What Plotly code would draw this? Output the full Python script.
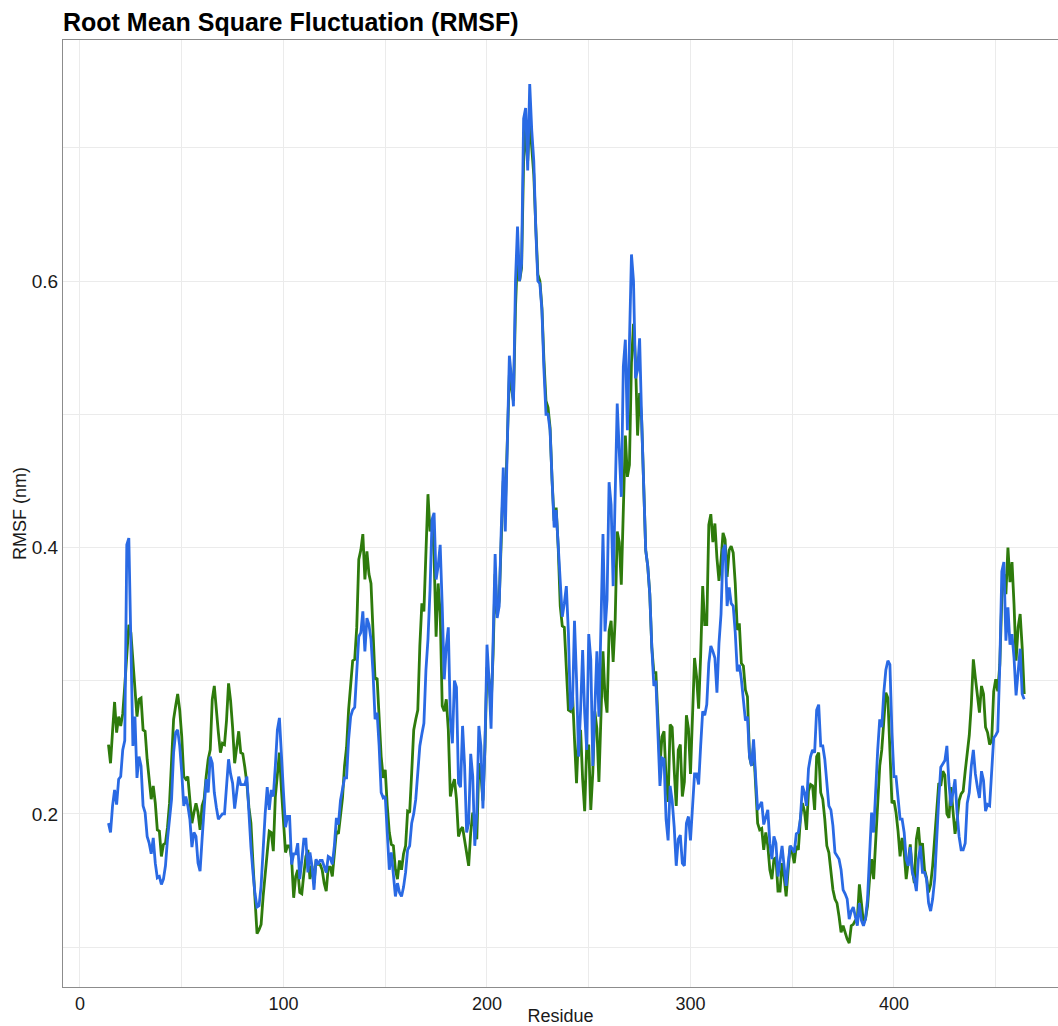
import plotly.graph_objects as go

# ---------------- data ----------------
res_green = list(range(14, 465))
rmsf_green = [
    0.252, 0.238, 0.262, 0.284, 0.261, 0.273, 0.266, 0.275, 0.296, 0.320,  # 14-23
    0.342, 0.336, 0.313, 0.288, 0.273, 0.286, 0.287, 0.263, 0.262, 0.241,  # 24-33
    0.228, 0.211, 0.221, 0.208, 0.188, 0.187, 0.168, 0.177, 0.178, 0.190,  # 34-43
    0.208, 0.245, 0.271, 0.281, 0.290, 0.278, 0.258, 0.228, 0.226, 0.228,  # 44-53
    0.208, 0.193, 0.201, 0.208, 0.201, 0.188, 0.206, 0.211, 0.228, 0.241,  # 54-63
    0.248, 0.286, 0.296, 0.276, 0.261, 0.246, 0.253, 0.252, 0.270, 0.298,  # 64-73
    0.285, 0.265, 0.238, 0.250, 0.262, 0.246, 0.245, 0.235, 0.223, 0.205,  # 74-83
    0.193, 0.163, 0.138, 0.110, 0.113, 0.117, 0.138, 0.153, 0.170, 0.187,  # 84-93
    0.186, 0.172, 0.213, 0.230, 0.246, 0.218, 0.191, 0.171, 0.176, 0.176,  # 94-103
    0.166, 0.137, 0.153, 0.158, 0.141, 0.140, 0.155, 0.168, 0.173, 0.151,  # 104-113
    0.161, 0.148, 0.165, 0.162, 0.162, 0.158, 0.148, 0.142, 0.160, 0.160,  # 114-123
    0.153, 0.173, 0.187, 0.185, 0.200, 0.212, 0.236, 0.250, 0.278, 0.300,  # 124-133
    0.315, 0.316, 0.340, 0.391, 0.398, 0.410, 0.376, 0.397, 0.380, 0.373,  # 134-143
    0.338, 0.301, 0.302, 0.276, 0.243, 0.227, 0.233, 0.206, 0.186, 0.177,  # 144-153
    0.176, 0.158, 0.151, 0.165, 0.158, 0.170, 0.176, 0.202, 0.201, 0.231,  # 154-163
    0.263, 0.271, 0.278, 0.326, 0.358, 0.352, 0.406, 0.440, 0.412, 0.421,  # 164-173
    0.393, 0.333, 0.373, 0.351, 0.281, 0.277, 0.286, 0.263, 0.213, 0.221,  # 174-183
    0.226, 0.211, 0.183, 0.188, 0.190, 0.180, 0.170, 0.161, 0.186, 0.201,  # 184-193
    0.188, 0.181, 0.238, 0.230, 0.210, 0.250, 0.310, 0.300, 0.280, 0.320,  # 194-203
    0.380, 0.350, 0.360, 0.410, 0.450, 0.430, 0.490, 0.530, 0.520, 0.510,  # 204-213
    0.580, 0.620, 0.600, 0.610, 0.690, 0.715, 0.690, 0.720, 0.700, 0.680,  # 214-223
    0.640, 0.605, 0.600, 0.580, 0.540, 0.510, 0.505, 0.490, 0.450, 0.420,  # 224-233
    0.430, 0.400, 0.356, 0.341, 0.340, 0.308, 0.278, 0.277, 0.291, 0.256,  # 234-243
    0.223, 0.261, 0.263, 0.226, 0.202, 0.251, 0.251, 0.203, 0.231, 0.277,  # 244-253
    0.264, 0.224, 0.279, 0.322, 0.288, 0.276, 0.337, 0.345, 0.314, 0.346,  # 254-263
    0.412, 0.404, 0.372, 0.435, 0.484, 0.453, 0.462, 0.539, 0.568, 0.539,  # 264-273
    0.484, 0.516, 0.496, 0.447, 0.398, 0.386, 0.365, 0.325, 0.306, 0.306,  # 274-283
    0.264, 0.236, 0.258, 0.262, 0.227, 0.209, 0.267, 0.265, 0.233, 0.206,  # 284-293
    0.248, 0.252, 0.213, 0.224, 0.274, 0.264, 0.230, 0.270, 0.317, 0.303,  # 294-303
    0.279, 0.319, 0.371, 0.342, 0.342, 0.417, 0.425, 0.404, 0.418, 0.392,  # 304-313
    0.375, 0.390, 0.411, 0.406, 0.378, 0.398, 0.401, 0.396, 0.373, 0.338,  # 314-323
    0.343, 0.313, 0.311, 0.293, 0.288, 0.243, 0.236, 0.251, 0.221, 0.193,  # 324-333
    0.188, 0.189, 0.173, 0.186, 0.176, 0.158, 0.151, 0.166, 0.167, 0.142,  # 334-343
    0.142, 0.163, 0.153, 0.138, 0.158, 0.176, 0.171, 0.163, 0.176, 0.173,  # 344-353
    0.196, 0.208, 0.202, 0.188, 0.217, 0.222, 0.221, 0.203, 0.243, 0.246,  # 354-363
    0.216, 0.211, 0.196, 0.176, 0.171, 0.158, 0.143, 0.136, 0.133, 0.123,  # 364-373
    0.111, 0.116, 0.111, 0.106, 0.103, 0.116, 0.117, 0.120, 0.121, 0.147,  # 374-383
    0.133, 0.118, 0.121, 0.131, 0.151, 0.166, 0.151, 0.181, 0.211, 0.236,  # 384-393
    0.248, 0.271, 0.291, 0.287, 0.246, 0.208, 0.210, 0.201, 0.187, 0.168,  # 394-403
    0.182, 0.171, 0.151, 0.166, 0.177, 0.158, 0.148, 0.181, 0.190, 0.171,  # 404-413
    0.178, 0.158, 0.152, 0.141, 0.147, 0.161, 0.181, 0.203, 0.223, 0.221,  # 414-423
    0.232, 0.229, 0.200, 0.197, 0.220, 0.202, 0.185, 0.195, 0.210, 0.215,  # 424-433
    0.217, 0.232, 0.247, 0.259, 0.282, 0.316, 0.302, 0.291, 0.276, 0.296,  # 434-443
    0.290, 0.265, 0.261, 0.252, 0.255, 0.292, 0.301, 0.292, 0.312, 0.362,  # 444-453
    0.380, 0.365, 0.400, 0.374, 0.389, 0.357, 0.315, 0.340, 0.350, 0.325,  # 454-463
    0.290,                                                                 # 464
]

res_blue = list(range(14, 465))
rmsf_blue = [
    0.193, 0.186, 0.206, 0.218, 0.207, 0.226, 0.228, 0.248, 0.255, 0.402,  # 14-23
    0.407, 0.321, 0.251, 0.273, 0.227, 0.243, 0.236, 0.206, 0.201, 0.183,  # 24-33
    0.178, 0.170, 0.182, 0.163, 0.152, 0.153, 0.147, 0.151, 0.161, 0.181,  # 34-43
    0.195, 0.211, 0.246, 0.261, 0.263, 0.251, 0.231, 0.206, 0.213, 0.206,  # 44-53
    0.196, 0.175, 0.186, 0.183, 0.163, 0.157, 0.181, 0.208, 0.226, 0.216,  # 54-63
    0.243, 0.238, 0.216, 0.205, 0.196, 0.198, 0.200, 0.200, 0.220, 0.241,  # 64-73
    0.230, 0.223, 0.204, 0.215, 0.228, 0.222, 0.222, 0.222, 0.228, 0.196,  # 74-83
    0.175, 0.156, 0.140, 0.130, 0.131, 0.146, 0.178, 0.200, 0.220, 0.203,  # 84-93
    0.218, 0.213, 0.236, 0.263, 0.272, 0.248, 0.216, 0.190, 0.198, 0.198,  # 94-103
    0.162, 0.170, 0.170, 0.178, 0.151, 0.165, 0.181, 0.181, 0.156, 0.171,  # 104-113
    0.161, 0.143, 0.166, 0.162, 0.165, 0.165, 0.161, 0.156, 0.168, 0.167,  # 114-123
    0.162, 0.176, 0.197, 0.192, 0.210, 0.218, 0.227, 0.227, 0.256, 0.273,  # 124-133
    0.278, 0.280, 0.306, 0.333, 0.336, 0.352, 0.322, 0.347, 0.342, 0.331,  # 134-143
    0.306, 0.271, 0.276, 0.251, 0.216, 0.212, 0.213, 0.188, 0.158, 0.171,  # 144-153
    0.153, 0.138, 0.148, 0.141, 0.138, 0.145, 0.156, 0.173, 0.176, 0.193,  # 154-163
    0.200, 0.211, 0.231, 0.251, 0.260, 0.268, 0.308, 0.331, 0.368, 0.421,  # 164-173
    0.426, 0.376, 0.386, 0.402, 0.356, 0.301, 0.326, 0.340, 0.271, 0.253,  # 174-183
    0.300, 0.295, 0.223, 0.220, 0.266, 0.236, 0.186, 0.193, 0.245, 0.228,  # 184-193
    0.176, 0.201, 0.266, 0.251, 0.204, 0.251, 0.327, 0.301, 0.264, 0.326,  # 194-203
    0.395, 0.347, 0.356, 0.413, 0.460, 0.412, 0.480, 0.544, 0.528, 0.506,  # 204-213
    0.600, 0.641, 0.600, 0.613, 0.722, 0.730, 0.683, 0.748, 0.713, 0.690,  # 214-223
    0.638, 0.600, 0.598, 0.578, 0.533, 0.500, 0.500, 0.488, 0.450, 0.415,  # 224-233
    0.428, 0.401, 0.366, 0.348, 0.358, 0.371, 0.336, 0.278, 0.281, 0.345,  # 234-243
    0.301, 0.243, 0.278, 0.323, 0.276, 0.248, 0.335, 0.316, 0.236, 0.283,  # 244-253
    0.322, 0.273, 0.355, 0.410, 0.337, 0.361, 0.449, 0.432, 0.371, 0.429,  # 254-263
    0.508, 0.472, 0.438, 0.536, 0.556, 0.488, 0.551, 0.620, 0.600, 0.527,  # 264-273
    0.533, 0.557, 0.496, 0.447, 0.398, 0.386, 0.365, 0.325, 0.296, 0.300,  # 274-283
    0.264, 0.221, 0.242, 0.241, 0.196, 0.180, 0.221, 0.210, 0.190, 0.161,  # 284-293
    0.181, 0.184, 0.163, 0.161, 0.193, 0.198, 0.180, 0.202, 0.230, 0.230,  # 294-303
    0.222, 0.251, 0.277, 0.274, 0.282, 0.313, 0.326, 0.322, 0.317, 0.291,  # 304-313
    0.328, 0.350, 0.398, 0.402, 0.356, 0.370, 0.358, 0.356, 0.336, 0.307,  # 314-323
    0.312, 0.301, 0.283, 0.270, 0.273, 0.243, 0.236, 0.256, 0.228, 0.203,  # 324-333
    0.206, 0.209, 0.192, 0.198, 0.203, 0.178, 0.166, 0.183, 0.178, 0.153,  # 334-343
    0.163, 0.176, 0.161, 0.146, 0.163, 0.176, 0.174, 0.171, 0.185, 0.186,  # 344-353
    0.196, 0.221, 0.216, 0.206, 0.234, 0.243, 0.248, 0.246, 0.278, 0.282,  # 354-363
    0.251, 0.251, 0.241, 0.221, 0.206, 0.203, 0.191, 0.171, 0.168, 0.166,  # 364-373
    0.158, 0.143, 0.140, 0.136, 0.121, 0.127, 0.130, 0.123, 0.116, 0.133,  # 374-383
    0.120, 0.116, 0.121, 0.136, 0.166, 0.201, 0.186, 0.221, 0.248, 0.271,  # 384-393
    0.265, 0.291, 0.308, 0.315, 0.312, 0.261, 0.228, 0.228, 0.211, 0.196,  # 394-403
    0.196, 0.186, 0.166, 0.161, 0.175, 0.156, 0.151, 0.142, 0.166, 0.176,  # 404-413
    0.156, 0.156, 0.151, 0.133, 0.127, 0.136, 0.151, 0.183, 0.211, 0.235,  # 414-423
    0.238, 0.240, 0.251, 0.223, 0.206, 0.218, 0.226, 0.201, 0.183, 0.173,  # 424-433
    0.173, 0.178, 0.208, 0.216, 0.236, 0.248, 0.230, 0.220, 0.212, 0.232,  # 434-443
    0.225, 0.202, 0.207, 0.206, 0.232, 0.257, 0.259, 0.262, 0.312, 0.382,  # 444-453
    0.389, 0.330, 0.355, 0.327, 0.335, 0.317, 0.289, 0.310, 0.324, 0.290,  # 454-463
    0.286,                                                                 # 464
]

x_tick_vals = [0, 100, 200, 300, 400]
y_tick_vals = [0.2, 0.4, 0.6]

# ---------------- figure ----------------
GREEN = "#2E7B0C"
BLUE = "#2A6AE4"
GRID = "#EBEBEB"
FONT = "Liberation Sans, Arial, sans-serif"

fig = go.Figure()
fig.add_trace(go.Scatter(x=res_green, y=rmsf_green, mode="lines",
                         line=dict(color=GREEN, width=2.8), showlegend=False))
fig.add_trace(go.Scatter(x=res_blue, y=rmsf_blue, mode="lines",
                         line=dict(color=BLUE, width=2.8), showlegend=False))

fig.update_layout(
    width=1058, height=1026,
    margin=dict(l=63, r=0, t=40, b=39, autoexpand=False),
    paper_bgcolor="white", plot_bgcolor="white",
    font=dict(family=FONT, size=18, color="#1a1a1a"),
    title=dict(text="<b>Root Mean Square Fluctuation (RMSF)</b>",
               font=dict(family=FONT, size=25, color="black"),
               x=63 / 1058, xref="container", xanchor="left",
               y=1 - 22 / 1026, yref="container", yanchor="middle"),
)
fig.update_xaxes(
    range=[-8.35, 480.6], tickvals=x_tick_vals, ticks="",
    showgrid=True, gridcolor=GRID, gridwidth=1,
    minor=dict(dtick=50, tick0=0, showgrid=True, gridcolor=GRID, gridwidth=1),
    zeroline=False, showline=True, linecolor="#8c8c8c", linewidth=1.2, mirror=True,
    tickfont=dict(size=18, color="#1a1a1a"),
    title=dict(text="Residue", font=dict(size=18), standoff=2),
    automargin=False,
)
fig.update_yaxes(
    range=[0.070, 0.781], tickvals=y_tick_vals, ticks="",
    showgrid=True, gridcolor=GRID, gridwidth=1,
    minor=dict(dtick=0.1, tick0=0.1, showgrid=True, gridcolor=GRID, gridwidth=1),
    zeroline=False, showline=True, linecolor="#8c8c8c", linewidth=1.2, mirror=True,
    tickfont=dict(size=19, color="#1a1a1a"),
    title=dict(text="RMSF (nm)", font=dict(size=18), standoff=0),
    automargin=False,
)

fig.write_html("out.html")
